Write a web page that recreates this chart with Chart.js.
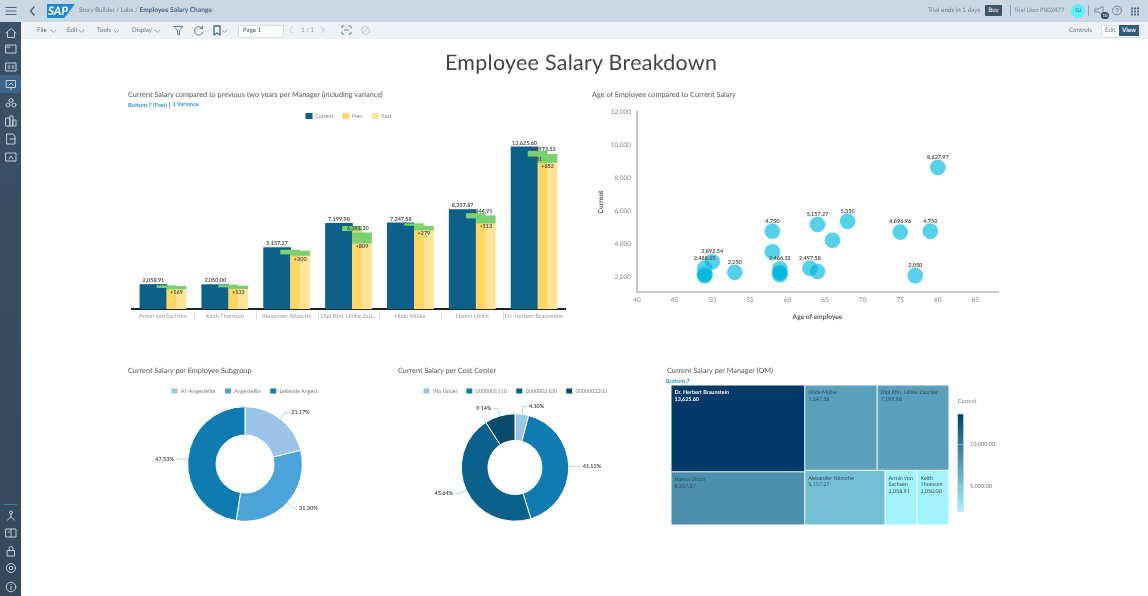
<!DOCTYPE html>
<html><head><meta charset="utf-8">
<script src="https://cdn.jsdelivr.net/npm/chart.js@4"></script>
<style>
html,body{margin:0;padding:0;background:#fff;overflow:hidden}
body{width:1148px;height:596px;position:relative;font-family:Lato,sans-serif;text-rendering:geometricPrecision}
.a{position:absolute;white-space:nowrap;line-height:1;will-change:opacity}
canvas{position:absolute}
.t{color:#555;font-size:7.3px;transform:translateY(-50%)}
.b{color:#2f8fdc;font-size:5.7px;font-weight:700;transform:translateY(-50%)}
.h{color:#6a8096;font-size:6.3px;transform:translateY(-50%)}
.m{color:#5f7488;font-size:6.2px;transform:translateY(-50%)}
svg{position:absolute;overflow:visible}
svg *{fill:none;stroke-linecap:round;stroke-linejoin:round}
</style></head><body>
<div class="a" style="left:0;top:0;width:1148px;height:22px;background:#cad8e6"></div>
<div class="a" style="left:21px;top:22px;width:1127px;height:17px;background:#eef2f7"></div>
<div class="a" style="left:0;top:22px;width:21px;height:574px;background:linear-gradient(#3b5167,#36495c)"></div>
<div class="a" style="left:0;top:75px;width:21px;height:18px;background:#3d6488"></div>
<div class="a" style="left:4px;top:504px;width:13px;height:1px;background:#3f7f9f"></div>
<div id="chrome"></div>
<div class="a" style="left:47px;top:4px;width:28px;height:14px;background:#1b8ad6;clip-path:polygon(0 0,100% 0,62% 100%,0 100%)"></div>
<div class="a" style="left:48px;top:5px;color:#fff;font:italic 900 11.5px Lato;">SAP</div>
<div class="a h" style="left:79px;top:11px">Story Builder / Labs / <b style="color:#4b6379;font-size:6.7px">Employee Salary Change</b></div>
<div class="a h" style="left:928px;top:11px">Trial ends in 1 days</div>
<div class="a" style="left:985px;top:5px;width:17px;height:11px;background:#3d5467;border-radius:1px;color:#fff;font-size:6.2px;line-height:11px;text-align:center">Buy</div>
<div class="a" style="left:1010px;top:5px;width:1px;height:11px;background:#8aa2b8"></div>
<div class="a h" style="left:1014px;top:11px;font-size:6px">Trial User P002477</div>
<div class="a" style="left:1071px;top:4px;width:14px;height:14px;border-radius:7px;background:#5ceffb;color:#40607a;font-size:5px;line-height:14px;text-align:center">TU</div>
<div class="a" style="left:1088px;top:5px;width:1px;height:11px;background:#8aa2b8"></div>
<div class="a" style="left:1101px;top:12px;width:8px;height:7px;border-radius:4px;background:#2d4b66;color:#fff;font-size:4.5px;line-height:7px;text-align:center">18</div>
<div class="a m" style="left:37px;top:31px">File</div>
<div class="a m" style="left:67px;top:31px">Edit</div>
<div class="a m" style="left:97px;top:31px">Tools</div>
<div class="a m" style="left:132px;top:31px">Display</div>
<div class="a" style="left:238px;top:25px;width:44px;height:11px;background:#fff;border:1px solid #d5dde6;border-radius:1px"></div>
<div class="a m" style="left:243px;top:31px;color:#44576a">Page 1</div>
<div class="a m" style="left:301px;top:31px;color:#8a9bab">1 / 1</div>
<div class="a m" style="left:1069px;top:31px">Controls</div>
<div class="a" style="left:1101px;top:25px;width:38px;height:11px;background:#fff;border:1px solid #d8e0e8;border-radius:1px"></div>
<div class="a m" style="left:1105px;top:31px">Edit</div>
<div class="a" style="left:1119px;top:25px;width:20px;height:11px;background:#2f5a80;color:#fff;font-size:6.2px;font-weight:700;line-height:11px;text-align:center">View</div>
<div class="a" style="left:445px;top:52px;color:#444;font-size:21.4px;letter-spacing:.3px">Employee Salary Breakdown</div>
<div class="a t" style="left:128px;top:94.5px">Current Salary compared to previous two years per Manager (including variance)</div>
<div class="a b" style="left:128px;top:105.5px">Bottom 7 (Past)</div>
<div class="a" style="left:169px;top:102px;width:1px;height:6px;background:#8a9bab"></div>
<div class="a b" style="left:172.5px;top:105px">1 Variance</div>
<div class="a t" style="left:592px;top:94.5px">Age of Employee compared to Current Salary</div>
<div class="a t" style="left:128px;top:371px">Current Salary per Employee Subgroup</div>
<div class="a t" style="left:398px;top:371px">Current Salary per Cost Center</div>
<div class="a t" style="left:667px;top:371px">Current Salary per Manager (OM)</div>
<div class="a b" style="left:666px;top:382px">Bottom 7</div>
<canvas id="bars" style="left:120px;top:104px" width="455" height="221"></canvas>
<canvas id="scatter" style="left:590px;top:100px" width="420" height="230"></canvas>
<canvas id="donut1" style="left:130px;top:379px" width="230" height="145"></canvas>
<canvas id="donut2" style="left:400px;top:379px" width="230" height="152"></canvas>
<canvas id="tree" style="left:660px;top:380px" width="350" height="150"></canvas>
<script>
// ---- data ----
const managerTicks = ['Armin von Sachsen','Keith Thomson','Alexander Nitzsche','Dipl.Kfm. Ulrike Zau...','Hilde Müller','Hanna Ulrich','Dr. Herbert Braunstein'];
const managerNames = ['Armin von Sachsen','Keith Thomson','Alexander Nitzsche','Dipl.Kfm. Ulrike Zaucker','Hilde Müller','Hanna Ulrich','Dr. Herbert Braunstein'];
const currentSalary = [2058.91,2050,5157.27,7199.98,7247.58,8357.87,13625.6];
const prevSalary = [1791,1847,4618,6577,7025,7641,12846];
const pastSalary = [1679,1707,4506,5542,6633,7221,12315];
const prevVarianceTop = [1959,2015,4954,6941,7165,8033,13266];
const pastVarianceTop = [1903,1931,4870,6409,6969,7837,13014];
const currentLabels = ['2,058.91','2,050.00','5,157.27','7,199.98','7,247.58','8,357.87','13,625.60'];
const prevLabels = [null,null,null,'6,391.30',null,'7,844.91','12,973.52'];
const prevVarianceLabels = [null,null,null,null,null,null,'+751'];
const pastVarianceLabels = ['+169','+133','+300','+809','+279','+513','+652'];

const scatterAges = [49,50,53,58,58,59,59,59,59,63,64,64,66,68,75,79,77,80,49,49,49];
const scatterSalary = [2488.65,2892.54,2250,4750,3500,2466.33,2250,2100,2200,2497.58,2300,5157.27,4200,5350,4696.96,4750,2050,8627.97,2100,2150,2050];
const scatterLabels = ['2,488.65','2,892.54','2,250','4,750',null,'2,466.33',null,null,null,'2,497.58',null,'5,157.27',null,'5,350','4,696.96','4,750','2,050','8,627.97',null,null,null];
const ageTicks = [40,45,50,55,60,65,70,75,80,85];
const salaryTicks = [2000,4000,6000,8000,10000,12000];

const subgroupLabels = ['AT-Angestellte','Angestellte','Leitende Angest.'];
const subgroupShare = [21.17,31.30,47.53];
const costCenterLabels = ['(No Value)','0000001110','0000002100','0000002200'];
const costCenterShare = [4.10,41.12,45.64,9.14];

const treemapColors = ['#a3f3ff','#a3f3ff','#75bfd6','#5aa0bd','#5aa0bd','#4d8fae','#013a68'];
const treemapValueText = currentLabels;
const colorLegendTicks = [5000,10000];
// --------------------------------------

const FONT='Lato';
Chart.defaults.font.family=FONT;
Chart.defaults.animation=false;
Chart.defaults.responsive=false;
Chart.defaults.plugins.tooltip.enabled=false;
Chart.defaults.events=[];
Chart.register({id:'preciseText',beforeDraw(c){c.ctx.textRendering='geometricPrecision';}});

// chrome icons
const chrome=document.getElementById('chrome');
function svg(x,y,inner,stroke,w){
  chrome.insertAdjacentHTML('beforeend',`<svg style="left:${x}px;top:${y}px" width="12" height="12"><g stroke="${stroke}" stroke-width="${w||1}">${inner}</g></svg>`);
}
const side='#c3cfdb';
svg(5,6,'<path d="M1 1.5H11M1 5H11M1 8.5H11"/>','#4a6580',1.2);
svg(28,6,'<path d="M6 1L2.5 5L6 9"/>','#40586e',1.2);
[[5,27,'<path d="M1 6L6 1.5L11 6M2.5 5V10.5H9.5V5"/>'],
 [5,43,'<rect x="1" y="2" width="10" height="8"/><path d="M1 4H5"/>'],
 [5,61,'<rect x="1" y="2" width="10" height="8"/><path d="M3 5H5M3 7H5M7 5H9M7 7H9"/>'],
 [5,79,'<rect x="1.5" y="1.5" width="9" height="7"/><path d="M4 6L6 4L8 6M6 9V11"/>'],
 [5,97,'<circle cx="6" cy="3.5" r="2"/><circle cx="3" cy="8" r="2"/><circle cx="9" cy="8" r="2"/>'],
 [5,115,'<rect x="1" y="3" width="4" height="8"/><rect x="5" y="1" width="3" height="10"/><rect x="8" y="5" width="3" height="6"/>'],
 [5,133,'<path d="M2 1H8L10 3V11H2Z"/><path d="M5 6H10"/>'],
 [5,151,'<rect x="1" y="2" width="10" height="8"/><path d="M4 8L6 5L8 8"/>'],
 [5,510,'<circle cx="6" cy="2.5" r="1.5"/><path d="M6 4V7L2.5 10M6 7L9.5 10"/>'],
 [5,527,'<rect x="1" y="2" width="10" height="8"/><path d="M6 2V10M3 5H4.5"/>'],
 [5,545,'<rect x="2.5" y="5.5" width="7" height="5.5"/><path d="M4 5.5V3.5A2 2 0 0 1 8 3.5V5.5"/>'],
 [5,562,'<circle cx="6" cy="6" r="4.5"/><circle cx="6" cy="6" r="1.8"/>'],
 [5,581,'<circle cx="6" cy="6" r="4.8"/><path d="M6 5.5V8.5M6 3.5V3.6"/>']
].forEach(i=>svg(i[0],i[1],i[2],side));
[[50,25],[78,25],[113,25],[154,25]].forEach(p=>svg(p[0]-.5,p[1]+2,'<path d="M1 3L3.5 5.5L6 3"/>','#7d90a2',.8));
svg(173,25,'<path d="M1 1.5H10L6.5 5.5V10L4.5 9V5.5Z"/>','#5f7488',.9);
svg(193,25,'<path d="M9.5 3.5A4.3 4.3 0 1 0 10 7M9.5 1V3.5H7"/>','#5f7488',.9);
svg(212,25,'<path d="M2 1H8V10L5 8L2 10Z"/>','#4a6a8a',1.3);
svg(221,27,'<path d="M1 3L3.5 5.5L6 3"/>','#7d90a2',.8);
svg(271,27,'<path d="M1 3L3.5 5.5L6 3"/>','#5f7488',.8);
svg(288,26,'<path d="M4 1L1.5 4L4 7"/>','#b4bfca',.8);
svg(320,26,'<path d="M1.5 1L4 4L1.5 7"/>','#b4bfca',.8);
svg(341,25,'<path d="M1 3V1H3M8 1H10V3M1 7V9H3M8 9H10V7M3.5 5H7.5"/>','#5f7488',.9);
svg(360,25,'<circle cx="5.5" cy="5.5" r="4"/><path d="M3 8L8 3"/>','#b4bfca',.8);
svg(1094,5,'<path d="M1 4H4L9 1.5V9.5L4 7H1Z"/>','#6a8096',.9);
svg(1112,5,'<circle cx="5" cy="5.5" r="4.5"/><path d="M3.7 4.2A1.4 1.4 0 1 1 5 6V6.5M5 8V8.1"/>','#6a8096',.9);
svg(1131,7,'<path d="M1 1V2M4 1V2M7 1V2M1 4V5M4 4V5M7 4V5M1 7V8M4 7V8M7 7V8"/>','#3f5a74',1.6);

const labelColor='#4f4f4f';
const valueFont='bold 5.5px '+FONT;
const legendLabels={boxWidth:7,boxHeight:6,padding:9,color:'#7a7a7a',font:{size:5.4},sort:(a,b)=>a.datasetIndex-b.datasetIndex};

// ---- bar chart ----
const xOff={current:-0.154,prevVar:0.057,prev:0.138,past:0.219};
const pts=(offs,vals)=>vals.map((v,i)=>({x:i+offs,y:v}));
const barLabelPlugin={id:'barLabelPlugin',afterDatasetsDraw(c){
  const g=c.ctx,x=c.scales.x,y=c.scales.y;
  g.save();g.textAlign='center';g.textBaseline='middle';g.fillStyle=labelColor;g.font=valueFont;
  currentSalary.forEach((v,i)=>{
    g.fillText(currentLabels[i],x.getPixelForValue(i+xOff.current),y.getPixelForValue(v)-4);
    if(prevLabels[i])g.fillText(prevLabels[i],x.getPixelForValue(i+0.15),y.getPixelForValue(pastVarianceTop[i])-4.5);
    if(prevVarianceLabels[i])g.fillText(prevVarianceLabels[i],x.getPixelForValue(i+0.03),y.getPixelForValue(prevSalary[i])+3);
    g.fillText(pastVarianceLabels[i],x.getPixelForValue(i+xOff.past),y.getPixelForValue(pastSalary[i])+3.4);
  });
  // separators between category labels
  g.strokeStyle='#dcdcdc';g.lineWidth=1;
  for(let i=0;i<managerTicks.length-1;i++){
    const px=Math.round(x.getPixelForValue(i+.5))+.5;
    g.beginPath();g.moveTo(px,c.chartArea.bottom+2);g.lineTo(px,c.chartArea.bottom+11);g.stroke();
  }
  g.restore();
}};
new Chart(document.getElementById('bars'),{
  type:'bar',
  data:{datasets:[
    {label:'Current',data:pts(xOff.current,currentSalary),backgroundColor:'#0d6189',barThickness:27,grouped:false,order:5},
    {label:'Prev',data:pts(xOff.prev,prevSalary),backgroundColor:'#ffd766',barThickness:9,grouped:false,order:3},
    {label:'Past',data:pts(xOff.past,pastSalary),backgroundColor:'#ffe396',barThickness:19,grouped:false,order:4},
    {label:'prevVar',data:prevSalary.map((v,i)=>({x:i+xOff.prevVar,y:[v,prevVarianceTop[i]]})),backgroundColor:'#79d16f',barThickness:19,grouped:false,order:2},
    {label:'pastVar',data:pastSalary.map((v,i)=>({x:i+xOff.past,y:[v,pastVarianceTop[i]]})),backgroundColor:'#79d16f',barThickness:19,grouped:false,order:1}
  ]},
  options:{
    layout:{padding:{left:12,right:10}},
    scales:{
      x:{type:'linear',offset:false,min:-0.5,max:6.5,grid:{display:false,offset:false,tickLength:2},border:{color:'#222',width:2},
        afterBuildTicks(s){s.ticks=managerTicks.map((_,i)=>({value:i}));},
        afterFit(s){s.height=16;},
        ticks:{autoSkip:false,maxRotation:0,color:'#9a9a9a',font:{size:5.8},padding:1.5,callback:v=>managerTicks[v]}},
      y:{display:false,min:0,max:15130}
    },
    plugins:{legend:{position:'top',labels:Object.assign({},legendLabels,{filter:i=>['Current','Prev','Past'].includes(i.text)})}}
  },
  plugins:[barLabelPlugin]
});

// ---- scatter ----
const scatterLabelPlugin={id:'scatterLabelPlugin',afterDatasetsDraw(c){
  const g=c.ctx,x=c.scales.x,y=c.scales.y;
  g.save();g.textAlign='center';g.textBaseline='middle';g.fillStyle=labelColor;g.font=valueFont;
  scatterAges.forEach((a,i)=>{if(scatterLabels[i])g.fillText(scatterLabels[i],x.getPixelForValue(a),y.getPixelForValue(scatterSalary[i])-10.5);});
  g.restore();
}};
new Chart(document.getElementById('scatter'),{
  type:'scatter',
  data:{datasets:[{data:scatterAges.map((a,i)=>({x:a,y:scatterSalary[i]})),backgroundColor:'rgba(0,183,222,.66)',borderColor:'rgba(120,220,240,.6)',borderWidth:.5,pointRadius:7.8}]},
  options:{
    layout:{padding:{top:12,right:12}},
    plugins:{legend:{display:false}},
    scales:{
      x:{type:'linear',min:40,max:88,grid:{display:false,tickLength:4},border:{color:'#c6c6c6',width:2},
        afterBuildTicks(s){s.ticks=ageTicks.map(v=>({value:v}));},afterFit(s){s.height=38;},
        title:{display:true,text:'Age of employee',color:'#555',font:{size:6.7,weight:'bold'},padding:{top:0,bottom:9}},
        ticks:{color:'#8a8a8a',font:{size:6.5},padding:0,autoSkip:false,maxRotation:0,callback:v=>v}},
      y:{type:'linear',min:1054,max:12000,grid:{display:false,tickLength:6},border:{color:'#c6c6c6',width:2},
        afterBuildTicks(s){s.ticks=salaryTicks.map(v=>({value:v}));},afterFit(s){s.width=47;},
        title:{display:true,text:'Current',color:'#555',font:{size:6.7,weight:'bold'},padding:{top:7,bottom:0}},
        ticks:{color:'#8a8a8a',font:{size:6.5},padding:0,autoSkip:false,callback:v=>v.toLocaleString('en-US')}}
    }
  },
  plugins:[scatterLabelPlugin]
});

// ---- doughnuts ----
function donutLabels(shares){return {id:'donutLabels',afterDatasetsDraw(c){
  const g=c.ctx,arcs=c.getDatasetMeta(0).data;
  g.save();g.font=valueFont;g.textBaseline='middle';g.fillStyle=labelColor;
  arcs.forEach((a,i)=>{
    const mid=(a.startAngle+a.endAngle)/2,r=a.outerRadius,cs=Math.cos(mid),sn=Math.sin(mid);
    const x0=a.x+cs*r,y0=a.y+sn*r,x1=a.x+cs*(r+8),y1=a.y+sn*(r+8),d=cs>=0?1:-1,x2=x1+d*4;
    g.strokeStyle='#a5d3ea';g.lineWidth=1;
    g.beginPath();g.moveTo(x0,y0);g.lineTo(x1,y1);g.lineTo(x2,y1);g.stroke();
    g.textAlign=d>0?'left':'right';
    g.fillText(shares[i].toFixed(2)+'%',x2+2*d,y1);
  });
  g.restore();
}};}
function donut(id,labels,vals,colors,radius,cutout){
  new Chart(document.getElementById(id),{
    type:'doughnut',
    data:{labels,datasets:[{data:vals,backgroundColor:colors,borderColor:'#fff',borderWidth:1}]},
    options:{radius,cutout,
      plugins:{legend:{position:'top',labels:legendLabels}}},
    plugins:[donutLabels(vals)]
  });
}
donut('donut1',subgroupLabels,subgroupShare,['#9cc3e8','#4ca3d9','#0f7bb0'],57.3,'50.5%');
donut('donut2',costCenterLabels,costCenterShare,['#9cc3e8','#0f7bb0','#0b618c','#0a4a6c'],53.7,'50.3%');

// ---- treemap ----
const treemapTree={dir:'h',kids:[
  {dir:'v',kids:[6,5]},
  {dir:'v',kids:[
    {dir:'h',kids:[4,3]},
    {dir:'h',kids:[2,{dir:'h',kids:[0,1]}]}
  ]}
]};
const nodeSum=n=>typeof n==='number'?currentSalary[n]:n.kids.reduce((s,k)=>s+nodeSum(k),0);
function layout(n,x0,y0,x1,y1,out){
  if(typeof n==='number'){out.push({i:n,x0,y0,x1,y1});return out;}
  const tot=nodeSum(n);let p=0;
  n.kids.forEach(k=>{
    const a=p/tot,b=(p+nodeSum(k))/tot;p+=nodeSum(k);
    if(n.dir==='h')layout(k,x0+(x1-x0)*a,y0,x0+(x1-x0)*b,y1,out);
    else layout(k,x0,y0+(y1-y0)*a,x1,y0+(y1-y0)*b,out);
  });
  return out;
}
const treemapPlugin={id:'treemapPlugin',afterDatasetsDraw(c){
  const g=c.ctx,X=c.scales.x,Y=c.scales.y;
  g.save();
  layout(treemapTree,0,0,1,1,[]).forEach(r=>{
    const l=X.getPixelForValue(r.x0),rr=X.getPixelForValue(r.x1),t=Y.getPixelForValue(r.y0),b=Y.getPixelForValue(r.y1);
    g.fillStyle=treemapColors[r.i];
    g.fillRect(l+.5,t+.5,rr-l-1,b-t-1);
    const dark=r.i===6;
    g.fillStyle=dark?'#fff':'#2f4a58';
    g.font=(dark?'bold ':'')+'5.4px '+FONT;g.textAlign='left';g.textBaseline='middle';
    const maxW=rr-l-6;
    const lines=[];let cur='';
    managerNames[r.i].split(' ').forEach(w=>{
      const test=cur?cur+' '+w:w;
      if(g.measureText(test).width>maxW&&cur){lines.push(cur);cur=w;}else cur=test;
    });
    lines.push(cur);lines.push(treemapValueText[r.i]);
    lines.forEach((s,j)=>g.fillText(s,l+3.5,t+7.7+j*6.7));
  });
  // colour legend
  const top=c.canvas.offsetTop,left=c.canvas.offsetLeft;
  const bx=957.7-left,bw=5.8,by=414-top,bb=511.5-top;
  const valMax=Math.max(...currentSalary),valMin=Math.min(...currentSalary);
  const pY=v=>bb-(v-valMin)/(valMax-valMin)*(bb-by);
  const grad=g.createLinearGradient(0,by,0,bb);
  grad.addColorStop(0,'#02426f');grad.addColorStop(.5,'#4f9abc');grad.addColorStop(1,'#a3f3ff');
  g.fillStyle=grad;g.fillRect(bx,by,bw,bb-by);
  g.strokeStyle='#cfd6dc';g.lineWidth=.6;g.strokeRect(bx,by,bw,bb-by);
  g.fillStyle='#777';g.font='5.6px '+FONT;
  g.fillText('Current',957.7-left,400.7-top);
  colorLegendTicks.forEach(v=>{
    const py=pY(v);
    g.strokeStyle='rgba(220,230,235,.8)';g.beginPath();g.moveTo(bx,py);g.lineTo(bx+bw,py);g.stroke();
    g.fillText(v.toLocaleString('en-US',{minimumFractionDigits:2}),970-left,py);
  });
  g.restore();
}};
new Chart(document.getElementById('tree'),{
  type:'scatter',
  data:{datasets:[{data:[]}]},
  options:{
    layout:{padding:{left:11,right:61,top:5,bottom:5}},
    plugins:{legend:{display:false}},
    scales:{x:{display:false,min:0,max:1},y:{display:false,min:0,max:1,reverse:true}}
  },
  plugins:[treemapPlugin]
});
</script>
</body></html>
